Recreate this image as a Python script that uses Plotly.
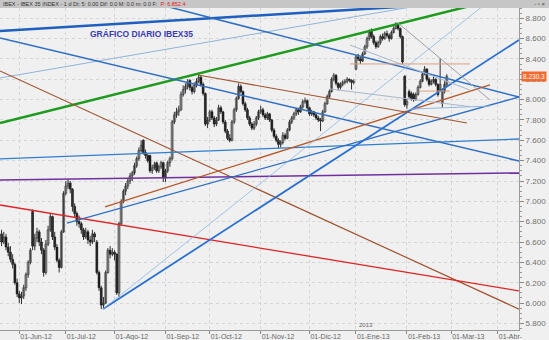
import pandas as pd
import plotly.graph_objects as go

# ---------------- data ----------------
opens = [6680,6600,6650,6550,6500,6430,6380,6200,
6090,6050,6070,6150,6280,6400,6900,6560,6640,6700,6600,6520,6300,6580,6720,6850,6650,6550,6420,6350,6700,
7080,7150,7180,7120,6950,6880,6800,6780,6720,6650,6700,6620,6600,6680,6600,6300,6150,5980,6000,6300,6520,6480,
6500,6480,6100,6780,7000,7100,7150,7200,7250,7280,7350,7420,7500,7600,7480,7450,7450,7300,7330,7380,7300,7340,
7380,7230,7300,7380,7420,7780,7850,7880,7900,8050,8100,8130,8190,8120,8080,8140,8180,8220,8150,8060,
7760,7800,7880,7820,7760,7800,7920,7880,7780,7690,7620,7600,7780,7900,8010,8130,8080,7960,7900,7820,7760,7720,7760,
7820,7880,7900,7850,7820,7860,7800,7700,7640,7600,7560,7580,7650,7620,7700,7780,7820,7860,7900,7880,7930,7980,
7990,7920,7860,7880,7850,7820,7800,7790,7880,7960,8030,8080,8200,8240,8160,8120,8150,8170,8180,8200,8190,8170,
8300,8420,8400,8380,8450,8520,8600,8680,8620,8560,8520,8560,8620,8600,8650,8630,8600,8660,8700,8740,8700,8620,
8230,7950,8080,8060,8050,8000,8050,8120,8180,8250,8300,8200,8150,8180,8200,8150,8100,7960,8080,8150]
highs = [6720,6700,6680,6590,6560,6480,6400,6240,
6120,6110,6180,6300,6420,6540,6920,6680,6740,6720,6640,6540,6620,6760,6880,6860,6700,6580,6440,6720,7100,
7200,7220,7200,7130,6980,6900,6860,6800,6740,6740,6720,6660,6720,6700,6620,6320,6170,6060,6320,6540,6560,6540,
6520,6490,6800,7020,7120,7180,7230,7280,7300,7380,7440,7530,7600,7610,7510,7470,7460,7360,7390,7390,7360,7400,
7390,7320,7400,7440,7800,7880,7920,7940,8080,8140,8160,8200,8200,8140,8170,8210,8250,8240,8170,8070,
7830,7900,7900,7840,7830,7950,7940,7890,7800,7710,7660,7800,7920,8030,8160,8150,8090,7980,7920,7840,7780,7790,
7840,7900,7940,7920,7870,7880,7870,7810,7720,7660,7620,7600,7680,7670,7720,7800,7840,7880,7920,7920,7950,8000,
8020,8000,7930,7900,7890,7870,7840,7820,7900,7980,8050,8100,8220,8260,8250,8170,8170,8190,8200,8220,8210,8200,
8200,8440,8450,8420,8470,8540,8620,8690,8700,8640,8580,8580,8640,8650,8670,8680,8650,8680,8720,8760,8750,8710,
8630,8240,8010,8100,8080,8070,8070,8140,8200,8270,8330,8310,8220,8200,8230,8210,8160,8400,8110,8180,8250]
lows = [6560,6580,6520,6460,6400,6340,6180,6060,
6000,5990,6040,6120,6250,6380,6520,6520,6600,6560,6480,6260,6280,6560,6700,6620,6520,6400,6300,6340,6690,
7060,7120,7080,6900,6840,6760,6740,6680,6620,6630,6580,6560,6580,6600,6280,6120,5940,5950,5990,6290,6440,6460,
6420,6080,6060,6760,6980,7060,7120,7170,7200,7260,7330,7400,7480,7460,7420,7380,7280,7270,7310,7280,7280,7320,
7190,7190,7280,7340,7400,7760,7820,7840,7890,8030,8060,8100,8090,8050,8060,8120,8160,8130,8040,7740,
7720,7780,7800,7730,7740,7790,7860,7760,7670,7600,7580,7590,7760,7880,8000,8060,7940,7880,7800,7740,7700,7700,
7740,7800,7860,7830,7800,7800,7780,7680,7620,7580,7520,7530,7560,7600,7610,7690,7760,7800,7840,7850,7870,7910,
7960,7900,7840,7840,7830,7800,7780,7690,7780,7870,7950,8010,8070,8180,8140,8090,8100,8130,8150,8160,8170,8100,
8150,8290,8380,8350,8370,8440,8500,8580,8600,8540,8500,8510,8540,8580,8590,8610,8570,8590,8650,8690,8680,8600,
8350,7930,7910,8010,7990,7980,7990,8040,8110,8170,8240,8180,8130,8140,8160,8130,8030,8080,7920,8060,8130]
closes = [6600,6650,6550,6500,6430,6380,6200,6090,
6050,6070,6150,6280,6400,6520,6560,6640,6700,6600,6520,6300,6580,6720,6850,6650,6550,6420,6350,6700,7080,
7150,7180,7120,6950,6880,6800,6780,6720,6650,6700,6620,6600,6680,6650,6300,6150,5980,6000,6300,6520,6480,6500,
6480,6100,6780,7000,7100,7150,7200,7250,7280,7350,7420,7500,7550,7480,7450,7400,7300,7330,7360,7300,7340,7380,
7230,7300,7380,7420,7780,7850,7880,7900,8050,8100,8130,8170,8120,8080,8140,8180,8220,8150,8060,7760,
7800,7880,7820,7760,7800,7920,7880,7780,7690,7620,7600,7780,7900,8010,8130,8080,7960,7900,7820,7760,7720,7760,
7820,7880,7900,7850,7820,7860,7800,7700,7640,7600,7560,7580,7650,7620,7700,7780,7820,7860,7900,7880,7930,7980,
7990,7920,7860,7880,7850,7820,7800,7790,7880,7960,8030,8080,8200,8240,8160,8120,8150,8170,8180,8200,8190,8170,
8170,8420,8400,8380,8450,8520,8600,8660,8620,8560,8520,8560,8620,8600,8650,8630,8600,8660,8700,8740,8700,8620,
8370,7950,7980,8030,8010,8000,8050,8120,8180,8250,8300,8200,8150,8180,8200,8150,8050,8150,8080,8150,8230]

month_labels = ["01-Jun-12", "01-Jul-12", "01-Ago-12", "01-Sep-12", "01-Oct-12", "01-Nov-12",
                "01-Dic-12", "01-Ene-13", "01-Feb-13", "01-Mar-13", "01-Abr-"]
y_ticks = [5800, 6000, 6200, 6400, 6600, 6800, 7000, 7200, 7400, 7600, 7800, 8000, 8200, 8400, 8600, 8800]
last_price = 8230.3

# trend lines: (start position, start value, end position, end value) in trading-day units
line_x0 = [-8.7, -8.7, -8.7, 65.8, -8.7, -8.7, -8.7, -8.7, -8.7, 38.7, 21.5, 37.8, 37.8, 80.7, 140.2, 149.3, 170.9, 149.3, 180.9, 176.4]
line_y0 = [8675, 8213, 7770, 8921, 8606, 8282, 6964, 7210, 7417, 6945, 6787, 5942, 5942, 8242, 8105, 8537, 8754, 8351, 8084, 7907]
line_x1 = [178.6, 179.5, 203.5, 225.6, 225.6, 225.6, 225.6, 225.6, 225.6, 212.5, 225.6, 225.6, 209.3, 202.1, 203.5, 203.5, 212.5, 203.5, 194.4, 212.5]
line_y1 = [8921, 8921, 8921, 8026, 7397, 5940, 6119, 7279, 7613, 8144, 8026, 8587, 8921, 7770, 7931, 8094, 7997, 8351, 8084, 7937]

line_colors = ["#1f5fbf", "#8fb3da", "#1e9a1e", "#2e6fc4", "#2e6fc4", "#a0522d", "#e02424", "#7030a0",
               "#2e7fd0", "#b8582a", "#2e6fc4", "#2a70d0", "#8ab8e6", "#a0522d", "#a8b8cc", "#a8b8cc",
               "#a0a0a8", "#d9a080", "#d9a080", "#90b8e0"]
line_widths = [2.5, 1, 2.5, 1.5, 1.5, 1.2, 1.3, 1.5, 1.3, 1.3, 1.3, 1.8, 0.8, 1.2, 1, 1, 1, 1, 1, 1]

# ---------------- positions ----------------
all_days = pd.bdate_range("2012-05-22", "2013-04-30")
first_day = pd.Timestamp("2012-06-01")
base = list(all_days).index(first_day)
xpos = [i - base for i in range(len(closes))]
month_starts = []
for m in pd.date_range("2012-06-01", "2013-04-01", freq="MS"):
    d = all_days[all_days >= m][0]
    month_starts.append(list(all_days).index(d) - base)

fig = go.Figure()

# wicks
wx, wy = [], []
for x, h, l in zip(xpos, highs, lows):
    wx += [x, x, None]
    wy += [l, h, None]
fig.add_trace(go.Scatter(x=wx, y=wy, mode="lines", line=dict(color="#303030", width=1),
                         showlegend=False, hoverinfo="skip"))

# bodies
up = [k for k in range(len(closes)) if closes[k] >= opens[k]]
dn = [k for k in range(len(closes)) if closes[k] < opens[k]]
fig.add_trace(go.Bar(x=[xpos[k] for k in up], y=[max(closes[k] - opens[k], 8) for k in up],
                     base=[opens[k] for k in up], width=0.85,
                     marker=dict(color="#ffffff", line=dict(color="#505050", width=0.8)),
                     showlegend=False, hoverinfo="skip"))
fig.add_trace(go.Bar(x=[xpos[k] for k in dn], y=[opens[k] - closes[k] for k in dn],
                     base=[closes[k] for k in dn], width=0.85,
                     marker=dict(color="#000000", line=dict(color="#000000", width=0.5)),
                     showlegend=False, hoverinfo="skip"))

for i in range(len(line_x0)):
    fig.add_trace(go.Scatter(x=[line_x0[i], line_x1[i]], y=[line_y0[i], line_y1[i]], mode="lines",
                             line=dict(color=line_colors[i], width=line_widths[i]),
                             showlegend=False, hoverinfo="skip"))

X_RANGE = [-8.71, 225.6]
Y_RANGE = [5735, 8901]

fig.update_layout(
    width=549, height=340,
    margin=dict(l=0, r=30, t=8, b=10),
    paper_bgcolor="#f0f0f0", plot_bgcolor="#f0f0f0",
    separators=",.",
    barmode="overlay",
    font=dict(family="Liberation Sans, Arial, sans-serif", size=8, color="#666666"),
    xaxis=dict(range=X_RANGE, tickvals=month_starts, ticktext=month_labels,
               ticklabelposition="outside right", ticks="outside", ticklen=3, tickcolor="#888888",
               showgrid=True, gridcolor="#d6d6d6", griddash="dot", showline=True, linecolor="#9a9a9a",
               zeroline=False, tickfont=dict(size=7, color="#666666")),
    yaxis=dict(range=Y_RANGE, side="right", tickvals=y_ticks, tickformat=",d", ticks="outside", ticklen=4,
               tickcolor="#888888", showgrid=True, gridcolor="#d6d6d6", griddash="dot", showline=True,
               linecolor="#9a9a9a", zeroline=False, tickfont=dict(size=8, color="#707070"),
               minor=dict(dtick=50, ticks="outside", ticklen=2, tickcolor="#999999", showgrid=False)),
)

# top bar
plot_h = 340 - 8 - 10
fig.add_shape(type="rect", xref="paper", yref="paper", x0=0, x1=549 / 519, y0=1, y1=1 + 8 / plot_h,
              fillcolor="#c6c6c6", line=dict(width=0), layer="above")
fig.add_annotation(xref="paper", yref="paper", x=0.002, y=1 + 4 / plot_h, xanchor="left", yanchor="middle",
                   text="IBEX - IBEX 35 INDEX - 1 d Dt: 5: 0.00 Dif: 0.0 M: 0.0 m: 0.0 F:  <span style='color:#e02020'>P: 6.852.4</span>",
                   showarrow=False, font=dict(size=5.5, color="#333333"))
fig.add_annotation(xref="paper", yref="paper", x=549 / 519 - 0.004, y=1 + 4 / plot_h, xanchor="right", yanchor="middle",
                   text="- ▫ ×", showarrow=False, font=dict(size=6, color="#444444"))

# title
fig.add_annotation(x=(142 - 19.3) / 2.215, y=8800 - 9.833 * (34 - 18.3), xref="x", yref="y",
                   text="<b>GRÁFICO DIARIO IBEX35</b>", showarrow=False,
                   font=dict(size=8.5, color="#3a3ab0", family="Liberation Sans, Arial, sans-serif"))

# price label
fig.add_annotation(xref="paper", yref="y", x=1.0, y=last_price, xanchor="left", yanchor="middle",
                   text="8.230.3", showarrow=False, bgcolor="#f26a2e", borderpad=1,
                   font=dict(size=6.5, color="#ffffff"), xshift=2)

# year marker
fig.add_annotation(x=month_starts[7], y=Y_RANGE[0], xref="x", yref="y", xanchor="left", yanchor="bottom",
                   text="2013", showarrow=False, font=dict(size=6, color="#666666"), xshift=1)

fig.write_html("out.html")
